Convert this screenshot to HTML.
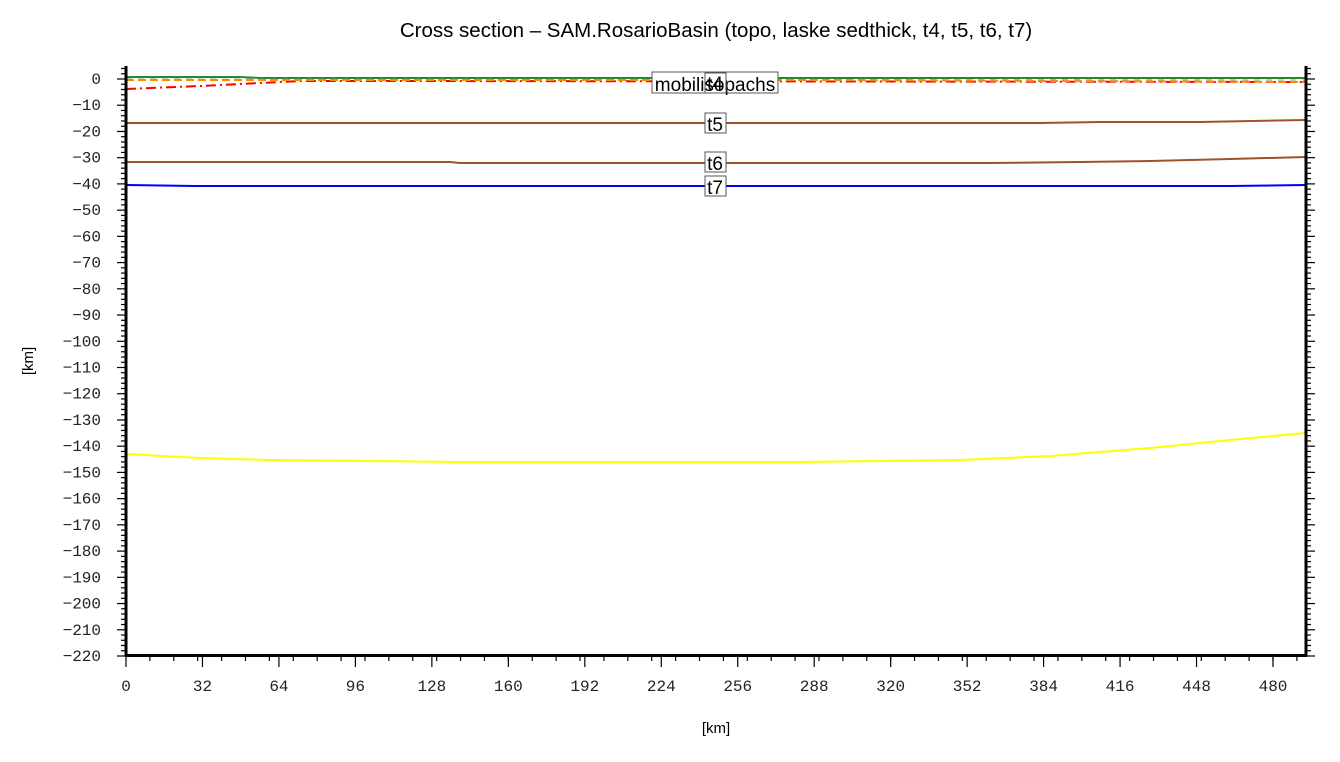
<!DOCTYPE html><html><head><style>body{margin:0;background:#fff}</style></head><body>
<svg width="1340" height="757" xmlns="http://www.w3.org/2000/svg" font-family="Liberation Sans, sans-serif">
<rect width="1340" height="757" fill="#fff"/>
<text x="716" y="37" font-size="20.5" text-anchor="middle">Cross section – SAM.RosarioBasin (topo, laske sedthick, t4, t5, t6, t7)</text>
<text x="716" y="733" font-size="15" text-anchor="middle">[km]</text>
<text x="33" y="361" font-size="15" text-anchor="middle" transform="rotate(-90 33 361)">[km]</text>
<g stroke-width="2" fill="none">
<polyline stroke="#ffff00" points="126,454 200,458 270,460 460,462 800,462 960,460 1050,456 1150,448 1230,440 1306,433"/>
<polyline stroke="#0000ff" points="126,185 195,186 1230,186 1306,185"/>
<polyline stroke="#a0522d" points="126,162 450,162 460,163 990,163 1080,162 1150,161 1230,159 1306,157"/>
<polyline stroke="#a0522d" points="126,123 1040,123 1100,122 1200,122 1306,120"/>
<polyline stroke="#228b22" points="126,77 240,77 260,78 1306,78"/>
<polyline stroke="#ff0000" stroke-dasharray="10,4,2,4" points="126,89 200,86 300,81 400,81 1306,82"/>
<polyline stroke="#ff8c00" stroke-dasharray="8,4" points="126,80 400,80 800,80 1306,82"/>
<polyline stroke="#999" stroke-dasharray="6,6" stroke-width="1" points="126,79 1306,80"/>
</g>
<g font-size="19" text-anchor="middle">
<rect x="652" y="72" width="126" height="21" fill="#fff" stroke="#555"/>
<text x="715" y="91">mobilisopachs</text>
<rect x="705" y="73" width="21" height="20" fill="none" stroke="#555"/>
<text x="715" y="90">t4</text>
<rect x="705" y="113" width="21" height="20" fill="#fff" stroke="#555"/><text x="715" y="131">t5</text>
<rect x="705" y="152" width="21" height="20" fill="#fff" stroke="#555"/><text x="715" y="170">t6</text>
<rect x="705" y="176" width="21" height="20" fill="#fff" stroke="#555"/><text x="715" y="194">t7</text>
</g>
<g stroke="#000" fill="none">
<line x1="126" y1="66" x2="126" y2="656" stroke-width="3"/>
<line x1="1306" y1="66" x2="1306" y2="656" stroke-width="3"/>
<line x1="125" y1="655.5" x2="1307" y2="655.5" stroke-width="3"/>
</g>
<g id="g1" stroke="#000" stroke-width="1.2"></g>
<g id="lab" font-family="Liberation Mono, monospace" font-size="16" fill="#222"></g>
<script>
var g=document.getElementById('g1'),L=document.getElementById('lab'),ns='http://www.w3.org/2000/svg';
function ln(a,b,c,d){var e=document.createElementNS(ns,'line');e.setAttribute('x1',a);e.setAttribute('y1',b);e.setAttribute('x2',c);e.setAttribute('y2',d);g.appendChild(e);}
function tx(x,y,s,an){var e=document.createElementNS(ns,'text');e.setAttribute('x',x);e.setAttribute('y',y);e.setAttribute('text-anchor',an);e.textContent=s;L.appendChild(e);}
var y0=79,sy=577/220;
for(var v=4;v>=-220;v-=2){var y=y0-v*sy;var maj=(v%10==0);ln(126-(maj?9:5),y,126,y);ln(1306,y,1306+(maj?9:5),y);
if(maj)tx(101,y+5,v==0?'0':'\u2212'+(-v),'end');}
var x0=126,sx=1147/480;
for(var k=10;k<=490;k+=10){var x=x0+k*sx;ln(x,656,x,661);}
for(var k=0;k<=480;k+=32){var x=x0+k*sx;ln(x,656,x,667);tx(x,691,''+k,'middle');}
</script>
</svg>
</body></html>
